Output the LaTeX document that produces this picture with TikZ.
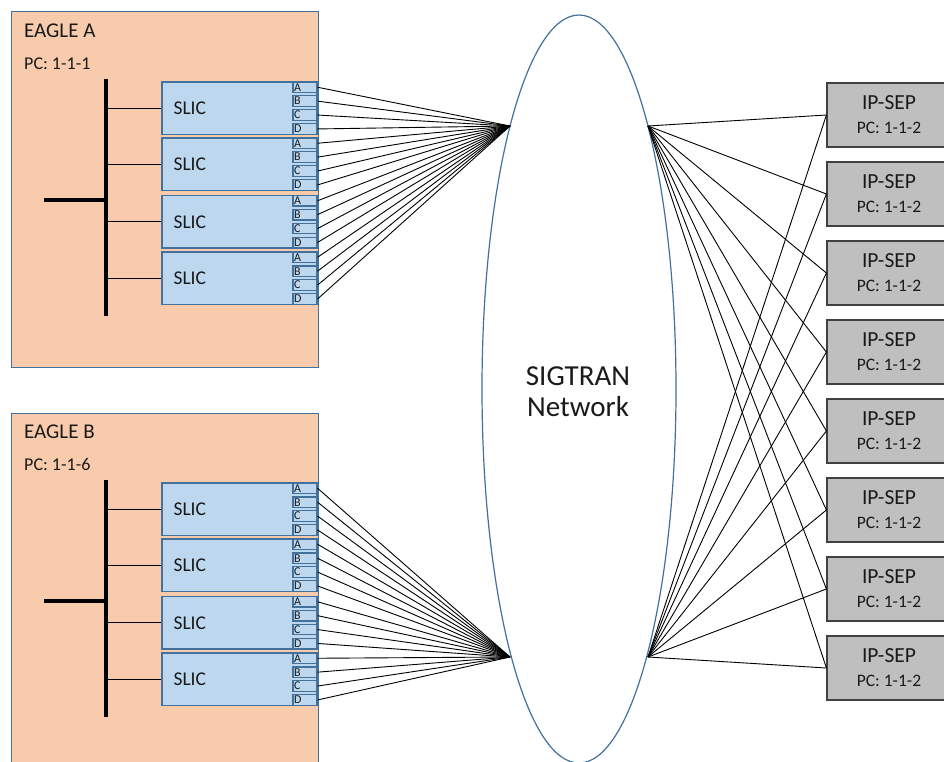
\documentclass[tikz,border=0pt]{standalone}
\usepackage{fontspec}
\setmainfont{Carlito}
\usetikzlibrary{shapes.geometric}
\definecolor{peach}{HTML}{F8CBAD}
\definecolor{lblue}{HTML}{BDD7EE}
\definecolor{bdr}{HTML}{41719C}
\definecolor{sepfill}{HTML}{BFBFBF}
\definecolor{sepbdr}{HTML}{404040}
\definecolor{txt}{HTML}{1A1A1A}
\begin{document}
\begin{tikzpicture}[x=1pt,y=-1pt,
  eaglebox/.style={draw=bdr,line width=1pt,fill=peach,minimum width=307pt,minimum height=355pt,inner sep=0pt},
  slicbox/.style={draw=bdr,line width=1.3pt,fill=lblue,minimum width=155pt,minimum height=52.5pt,inner sep=0pt},
  portbox/.style={draw=bdr,line width=1.2pt,fill=lblue,minimum width=24pt,minimum height=10.5pt,inner sep=0pt,
    text width=22pt,align=left,font=\fontsize{12}{12}\selectfont,text=txt},
  seppbox/.style={draw=sepbdr,line width=1.2pt,fill=sepfill,minimum width=124pt,minimum height=64pt,inner sep=0pt,
    align=center,font=\fontsize{21.5}{24}\selectfont,text=txt},
  titletext/.style={anchor=base west,inner sep=0pt,font=\fontsize{21}{24}\selectfont,text=txt},
  pctext/.style={anchor=base west,inner sep=0pt,font=\fontsize{18}{20}\selectfont,text=txt},
  slictext/.style={anchor=west,inner sep=0pt,font=\fontsize{19.5}{22}\selectfont,text=txt},
  busline/.style={line width=4.5pt,black},
  wire/.style={line width=0.9pt,black},
  netshape/.style={ellipse,draw=bdr,line width=1.2pt,minimum width=194pt,minimum height=748pt,inner sep=0pt},
  nettext/.style={align=center,inner sep=0pt,font=\fontsize{29}{31}\selectfont,text=txt}]
\useasboundingbox (0,0) rectangle (944,762);
\clip (0,0) rectangle (944,762);
\fill[white] (0,0) rectangle (944,762);

% network
\node[netshape] (net) at (579,389) {};
\node[nettext] (netlabel) at (578,392) {SIGTRAN\\Network};
\coordinate (hubA) at (510,126);
\coordinate (hubB) at (510,657);
\coordinate (hubAR) at (648,126);
\coordinate (hubBR) at (648,657);

% eagles
\foreach \e/\off/\pc in {A/0/1-1-1,B/401/1-1-6}{
  \node[eaglebox] (eagle\e) at (164.5,189.5+\off) {};
  \node[titletext] (title\e) at (24,37.3+\off) {EAGLE \e};
  \node[pctext] (pc\e) at (24,69.3+\off) {PC: \pc};
  \coordinate (busTop\e) at (106,79+\off);
  \coordinate (busBot\e) at (106,316+\off);
  \coordinate (busIn\e) at (44,200+\off);
  \draw[busline] (busTop\e) -- (busBot\e);
  \draw[busline] (busIn\e) -- (busIn\e -| busTop\e);
  \foreach \i/\top in {1/82,2/138,3/195.5,4/252}{
    \node[slicbox] (slic\e\i) at (239.5,\top+26.25+\off) {};
    \node[slictext] (slictxt\e\i) at ([xshift=12pt]slic\e\i.west) {SLIC};
    \draw[wire] (slic\e\i.west -| busTop\e) -- (slic\e\i.west);
    \foreach \L/\k in {A/0,B/1,C/2,D/3}{
      \node[portbox] (port\e\i\L) at (305,\top+5.25+13.9*\k+\off) {\L};
      \draw[wire] (port\e\i\L.east) -- (hub\e);
    }
  }
}

% IP-SEPs
\foreach \j in {0,...,7}{
  \node[seppbox] (sep\j) at (889,115+79*\j) {IP-SEP\\\fontsize{17.5}{24}\selectfont PC: 1-1-2};
  \draw[wire] (hubAR) -- (sep\j.west);
  \draw[wire] (hubBR) -- (sep\j.west);
}
\end{tikzpicture}
\end{document}
